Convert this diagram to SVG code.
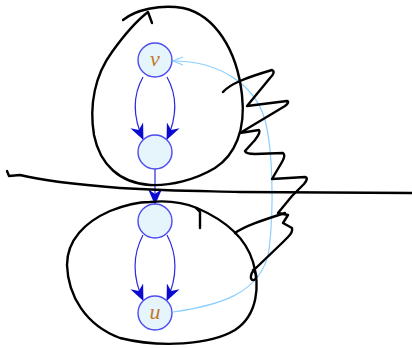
<svg xmlns="http://www.w3.org/2000/svg" width="412" height="348" viewBox="0 0 412 348">
<style>
.ink{fill:none;stroke:#000;stroke-width:2.4;stroke-linecap:round;stroke-linejoin:round}
.node{fill:#e6f4fc;stroke:#4c4cf0;stroke-width:1.4}
.edge{fill:none;stroke:#2a2ae0;stroke-width:1.2}
.back{fill:none;stroke:#8ccfff;stroke-width:1.2}
.lbl{font-family:"Liberation Serif",serif;font-style:italic;font-size:22px;fill:#c0782a;text-anchor:middle}
</style>
<defs>
<marker id="ah" markerUnits="userSpaceOnUse" markerWidth="16" markerHeight="14" viewBox="0 0 16 14" refX="15" refY="7" orient="auto">
<path d="M0 0 L16 7 L0 14 L5 7 Z" fill="#0a0ad0"/>
</marker>
<marker id="al" markerUnits="userSpaceOnUse" markerWidth="12" markerHeight="10" viewBox="0 0 12 10" refX="11" refY="5" orient="auto">
<path d="M1 1 L11 5 L1 9" fill="none" stroke="#8ccfff" stroke-width="1.3"/>
</marker>
</defs>
<g id="connectors">
<path class="edge" d="M143 77 C133 95 132 115 143 139" marker-end="url(#ah)"/>
<path class="edge" d="M167 77 C177 95 178 115 167 139" marker-end="url(#ah)"/>
<path class="edge" d="M155 169 L155 204" marker-end="url(#ah)"/>
<path class="edge" d="M143 235 C133 254 132 276 143 300" marker-end="url(#ah)"/>
<path class="edge" d="M167 235 C177 254 178 276 167 300" marker-end="url(#ah)"/>
<path class="back" d="M173 312 C215 306 262 295 269 250 C274 210 273 150 265 120 C255 85 220 61 173 61" marker-end="url(#al)"/>
</g>
<g id="v"><circle class="node" cx="155" cy="60" r="17"/><text class="lbl" x="155" y="66">v</text></g>
<g id="n2"><circle class="node" cx="155" cy="152" r="17"/></g>
<g id="n3"><circle class="node" cx="155" cy="221" r="17"/></g>
<g id="u"><circle class="node" cx="155" cy="313" r="17"/><text class="lbl" x="155" y="319">u</text></g>
<g id="scribbles">
<path class="ink" d="M123 20 C135 10 160 4 183 8 C215 15 237 50 242 95 C246 130 235 155 215 168 C195 180 170 186 150 185 C120 183 100 165 94 135 C89 105 95 75 112 52 C122 38 135 22 148 12 L152 23"/>
<path class="ink" d="M7 171 L9 176 L20 175 C40 180 70 184 120 188 C170 191 200 191 240 192 L412 193"/>
<path class="ink" d="M223 92 C230 84 245 78 272 70 Q276 72 270 78 L247 106 L287 101 Q290 102 285 106 L240 133 L259 130 Q261 132 255 140 L245 151 Q246 154 255 154 L283 153 Q286 155 282 162 L272 179 L305 177 Q309 178 304 184 L292 196 L278 213 L288 215 L283 223 L292 228 Q293 232 288 237 L282 243 L257 267 C250 272 249 281 254 280 C258 278 256 272 253 270"/>
<path class="ink" d="M235 233 C245 226 260 221 285 213"/>
<path class="ink" d="M150 202 C170 200 185 203 197 208 C220 218 245 235 253 262 C260 285 258 315 235 330 C210 345 160 348 120 338 C85 325 68 295 67 265 C67 240 85 222 110 211 C125 205 140 202 150 202"/>
<path class="ink" d="M196 208 L200 212 L200 228"/>
</g>
</svg>
